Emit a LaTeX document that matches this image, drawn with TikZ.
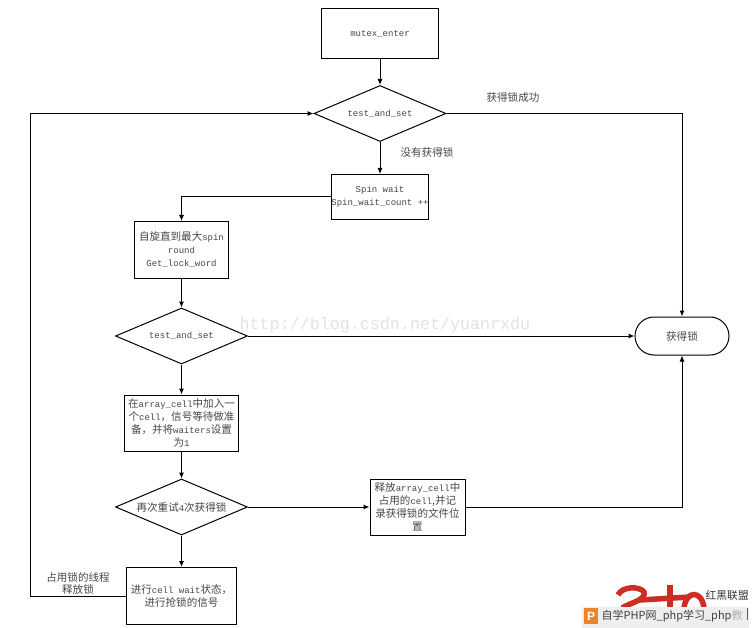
\documentclass[tikz,border=0pt]{standalone}
\usepackage{fontspec}
\usepackage{xcolor}
\usepackage{tikz}
\usetikzlibrary{shapes.geometric,shapes.misc,arrows.meta,calc}
\setmainfont{Liberation Mono}
\newfontfamily\cjk[Scale=1.17]{Noto Sans CJK SC}
\newfontfamily\sans{Liberation Sans}
\definecolor{inkgray}{RGB}{70,70,70}
\definecolor{markgray}{RGB}{226,226,226}
\definecolor{logored}{RGB}{205,45,35}
\definecolor{barorange}{RGB}{240,130,40}
\definecolor{bargray}{RGB}{238,238,238}
\tikzset{
  box/.style={draw=black,line width=1pt,align=center,text=inkgray,inner sep=0pt},
  cond/.style={diamond,draw=black,line width=1pt,align=center,text=inkgray,inner sep=0pt,aspect=2.35},
  flow/.style={draw=black,line width=1pt,-{Latex[length=6pt,width=5pt]}},
  note/.style={text=inkgray,align=center,inner sep=0pt}
}
\begin{document}
\begin{tikzpicture}[x=1pt,y=-1pt,font=\fontsize{9}{13}\selectfont]
\useasboundingbox (0,0) rectangle (752,628);
% watermark
\node[note,text=markgray,font=\fontsize{16.7}{20}\selectfont] (mark) at (385,325) {http://blog.csdn.net/yuanrxdu};
% boxes
\node[box,minimum width=117pt,minimum height=50pt] (enter) at (380,34) {mutex\_enter};
\node[cond,minimum width=132pt,minimum height=56pt] (test1) at (380,113.5) {test\_and\_set};
\node[box,minimum width=95pt,minimum height=45pt] (spin) at (380,197) {Spin wait\\Spin\_wait\_count ++};
\node[box,minimum width=94pt,minimum height=57pt] (round) at (181.5,250) {{\cjk 自旋直到最大}spin\\round\\Get\_lock\_word};
\node[cond,minimum width=132pt,minimum height=56pt] (test2) at (181.5,336) {test\_and\_set};
\node[box,minimum width=114pt,minimum height=56pt] (cell) at (181.5,423) {{\cjk 在}array\_cell{\cjk 中加入一}\\{\cjk 个}cell{\cjk ，信号等待做准}\\{\cjk 备，并将}waiters{\cjk 设置}\\{\cjk 为}1};
\node[cond,minimum width=132pt,minimum height=56pt] (retry) at (181.5,507) {{\cjk 再次重试}4{\cjk 次获得锁}};
\node[box,minimum width=110pt,minimum height=57pt] (wait) at (181.5,596) {{\cjk 进行}cell wait{\cjk 状态，}\\{\cjk 进行抢锁的信号}};
\node[box,minimum width=95pt,minimum height=56pt] (free) at (417.5,507) {{\cjk 释放}array\_cell{\cjk 中}\\{\cjk 占用的}cell{\cjk ,并记}\\{\cjk 录获得锁的文件位}\\{\cjk 置}};
\node[box,rounded rectangle,minimum width=94pt,minimum height=38pt] (done) at (682,336) {\cjk 获得锁};
% connectors
\coordinate (upright) at (682,113.5);
\coordinate (lowright) at (682,507);
\coordinate (backlow) at (30,596);
\coordinate (backup) at (30,113.5);
\coordinate (spinleft) at (181.5,197);
\draw[flow] (enter) -- (test1);
\draw[flow] (test1) -- (spin);
\draw[flow] (test1.east) -- (upright) -- (done.north);
\draw[flow] (spin.west) -- (spinleft) -- (round.north);
\draw[flow] (round) -- (test2);
\draw[flow] (test2.east) -- (done.west);
\draw[flow] (test2) -- (cell);
\draw[flow] (cell) -- (retry);
\draw[flow] (retry) -- (wait);
\draw[flow] (retry.east) -- (free.west);
\draw[flow] (free.east) -- (lowright) -- (done.south);
\draw[flow] (wait.west) -- (backlow) -- (backup) -- (test1.west);
% labels
\node[note,font=\cjk\fontsize{9}{12}\selectfont] (gotlock) at (513,98) {获得锁成功};
\node[note,font=\cjk\fontsize{9}{12}\selectfont] (nolock) at (427,152) {没有获得锁};
\node[note,font=\cjk\fontsize{9}{12}\selectfont] (holder) at (78,583) {占用锁的线程\\释放锁};
% logo
\draw[logored,line width=5.5pt] (618,595) .. controls (622,586) and (640,586) .. (644,592) .. controls (646,600) and (632,602) .. (622,608);
\draw[logored,line width=5.5pt] (640,600) -- (690,597);
\draw[logored,line width=5.5pt] (670,585) -- (670,608);
\draw[logored,line width=5.5pt] (684,608) .. controls (686,590) and (702,590) .. (704,608);
\node[note,font=\cjk\fontsize{9.2}{10}\selectfont,text=black!80,anchor=west] (league) at (705.5,595) {红黑联盟};
\fill[bargray] (582,607) rectangle (749,628);
\fill[barorange] (584,608) rectangle (598,624);
\node[note,font=\sans\bfseries\fontsize{12}{12}\selectfont,text=white] (plogo) at (591,616) {P};
\node[note,font=\cjk\fontsize{9.4}{12}\selectfont,text=black!75,anchor=west] (bar) at (601.5,616) {自学PHP网\_php学习\_php{\color{black!30}教}};
\draw[logored,line width=1pt] (747,608) -- (747,620);
\end{tikzpicture}
\end{document}
